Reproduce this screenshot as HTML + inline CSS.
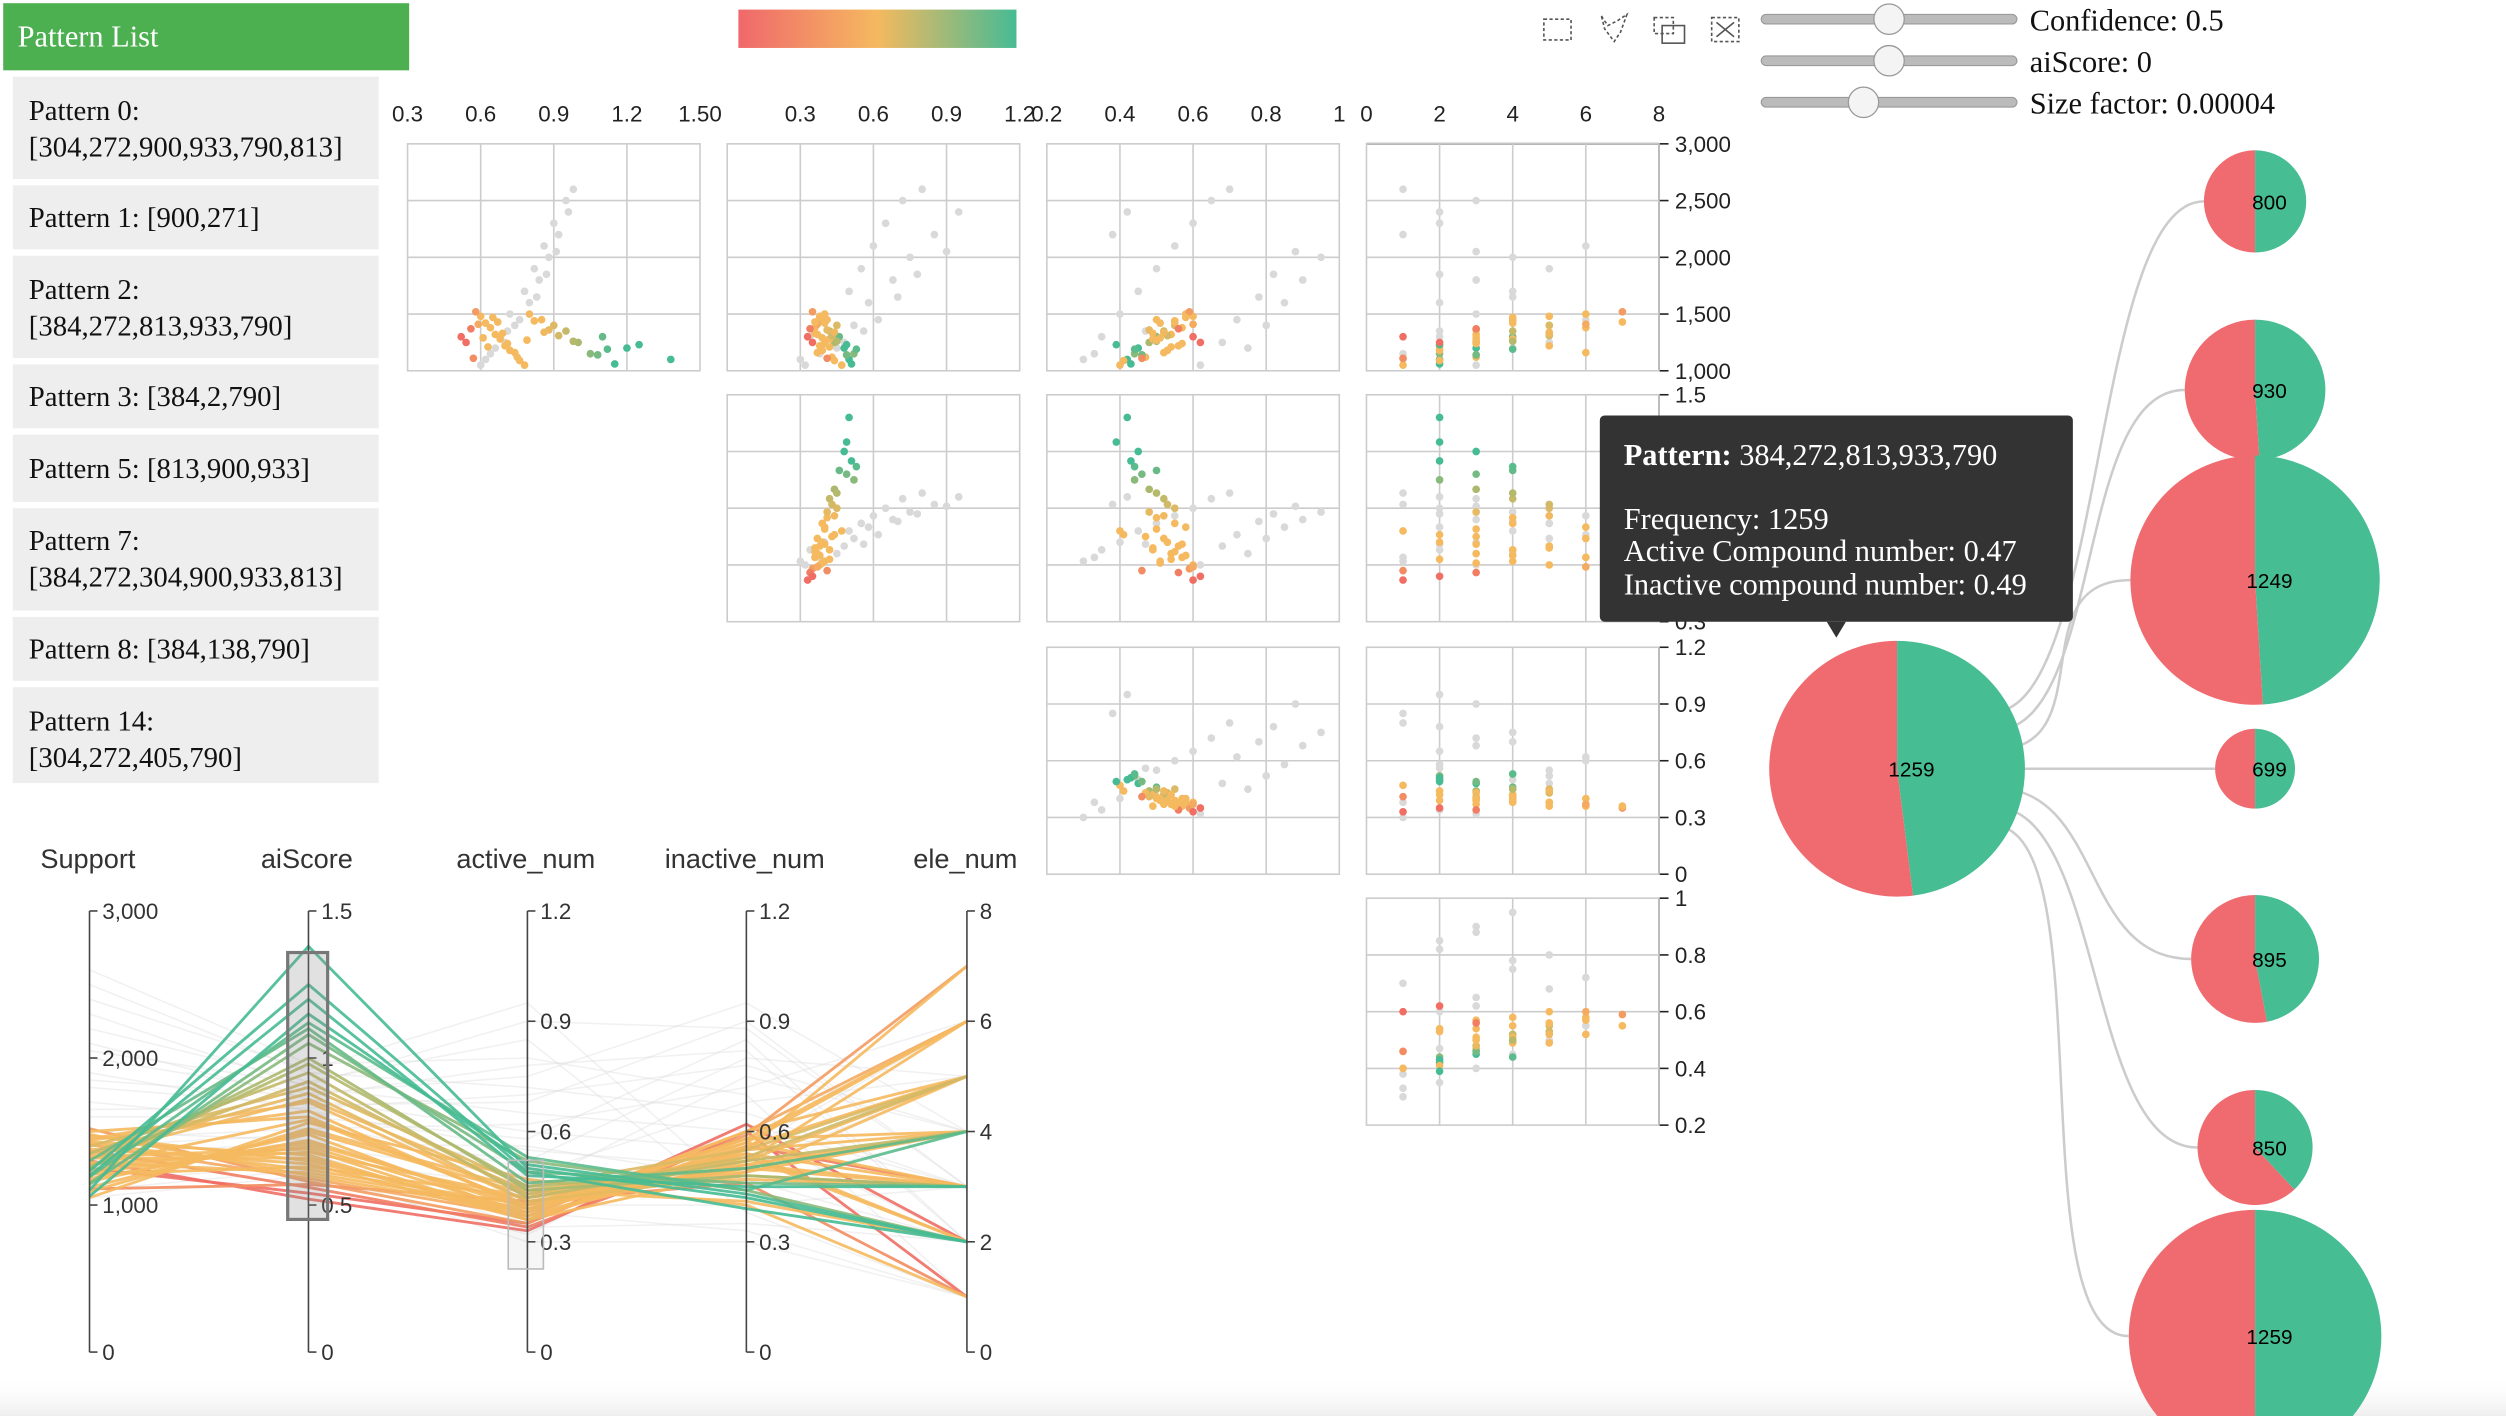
<!DOCTYPE html>
<html><head><meta charset="utf-8">
<style>
html,body{margin:0;padding:0;background:#fff;width:2506px;height:1416px;overflow:hidden}
svg{display:block}
.serif{font-family:"Liberation Serif",serif}
.sans{font-family:"Liberation Sans",sans-serif}
</style></head>
<body>
<svg id="root" width="2506" height="1416" viewBox="0 0 1568 886" xmlns="http://www.w3.org/2000/svg">
<defs>
<linearGradient id="cbar" x1="0" x2="1" y1="0" y2="0">
<stop offset="0" stop-color="#f0686c"/><stop offset="0.5" stop-color="#f5b95f"/><stop offset="1" stop-color="#46bb94"/>
</linearGradient>
<linearGradient id="shade" x1="0" x2="0" y1="0" y2="1"><stop offset="0" stop-color="#fff" stop-opacity="0"/><stop offset="1" stop-color="#eee"/></linearGradient>
</defs>
<rect x="0" y="860" width="1568" height="26" fill="url(#shade)"/>
<g>
<rect x="2" y="2" width="254" height="42" fill="#4caf50"/>
<text class="serif" x="11" y="29" font-size="19" fill="#fff">Pattern List</text>
<g><rect x="8" y="48" width="229" height="64" fill="#eee"/><text class="serif" x="18" y="75" font-size="18" fill="#111">Pattern 0:</text><text class="serif" x="18" y="98" font-size="18" fill="#111">[304,272,900,933,790,813]</text></g>
<g><rect x="8" y="116" width="229" height="40" fill="#eee"/><text class="serif" x="18" y="142" font-size="18" fill="#111">Pattern 1: [900,271]</text></g>
<g><rect x="8" y="160" width="229" height="64" fill="#eee"/><text class="serif" x="18" y="187" font-size="18" fill="#111">Pattern 2:</text><text class="serif" x="18" y="210" font-size="18" fill="#111">[384,272,813,933,790]</text></g>
<g><rect x="8" y="228" width="229" height="40" fill="#eee"/><text class="serif" x="18" y="254" font-size="18" fill="#111">Pattern 3: [384,2,790]</text></g>
<g><rect x="8" y="272" width="229" height="42" fill="#eee"/><text class="serif" x="18" y="299" font-size="18" fill="#111">Pattern 5: [813,900,933]</text></g>
<g><rect x="8" y="318" width="229" height="64" fill="#eee"/><text class="serif" x="18" y="344" font-size="18" fill="#111">Pattern 7:</text><text class="serif" x="18" y="367" font-size="18" fill="#111">[384,272,304,900,933,813]</text></g>
<g><rect x="8" y="386" width="229" height="40" fill="#eee"/><text class="serif" x="18" y="412" font-size="18" fill="#111">Pattern 8: [384,138,790]</text></g>
<g><rect x="8" y="430" width="229" height="60" fill="#eee"/><text class="serif" x="18" y="457" font-size="18" fill="#111">Pattern 14:</text><text class="serif" x="18" y="480" font-size="18" fill="#111">[304,272,405,790]</text></g>
</g>
<rect x="462" y="6" width="174" height="24" fill="url(#cbar)"/>
<g fill="none" stroke="#555" stroke-width="1" stroke-dasharray="2,1.5">
<rect x="966" y="12" width="17" height="13"/>
<path d="M1002 10 L1006 16 L1012 13 L1018 9 L1014 20 L1010 26 L1004 18 Z"/>
<g><rect x="1035" y="11" width="12" height="10"/><rect x="1040" y="16" width="14" height="11" stroke-dasharray="none"/></g>
<g><rect x="1071" y="11" width="17" height="15"/><path d="M1074 14 L1085 23 M1085 14 L1074 23" stroke-dasharray="none"/></g>
</g>
<g id="sliders"></g>
<g id="scatter"></g>
<g id="pc"></g>
<g id="tree"></g>
<g>
<rect x="1001" y="260" width="296" height="129" rx="3" fill="#333"/>
<path d="M1143 389 L1155 389 L1149 399 Z" fill="#333"/>
<text class="serif" x="1016" y="291" font-size="19" fill="#fff"><tspan font-weight="bold">Pattern:</tspan> 384,272,813,933,790</text>
<text class="serif" x="1016" y="331" font-size="19" fill="#fff">Frequency: 1259</text>
<text class="serif" x="1016" y="351" font-size="19" fill="#fff">Active Compound number: 0.47</text>
<text class="serif" x="1016" y="372" font-size="19" fill="#fff">Inactive compound number: 0.49</text>
</g>
</svg>
<script>
// ---- data ----
const sup   = [1100,1200,1300,1150,1250,1350,1400,1450,1500,1050,1120,1180,1220,1280,1320,1380,1420,1480,1520,1060,1140,1260,1310,1360,1440,1090,1160,1240,1330,1470,1210,1290,1410,1110,1370,1230,1190,1340,1270,1430,1250,1300,
               1100,1300,1500,1700,1900,2100,2300,2500,2600,1200,1400,1600,1800,2000,2200,2400,1050,1250,1450,1650,1850,2050,1150,1350];
const ai    = [1.38,1.2,1.1,1.05,1.0,0.95,0.9,0.85,0.8,0.78,0.75,0.72,0.7,0.68,0.66,0.64,0.62,0.6,0.58,1.15,1.08,0.98,0.92,0.88,0.82,0.76,0.74,0.71,0.69,0.65,0.63,0.61,0.59,0.57,0.56,1.25,1.12,0.86,0.79,0.67,0.54,0.52,
               0.62,0.68,0.72,0.78,0.82,0.86,0.9,0.95,0.98,0.66,0.74,0.8,0.84,0.88,0.92,0.96,0.6,0.7,0.76,0.83,0.87,0.91,0.64,0.71];
const act   = [0.5,0.48,0.46,0.52,0.44,0.42,0.45,0.41,0.4,0.47,0.43,0.39,0.38,0.42,0.37,0.36,0.4,0.38,0.35,0.51,0.49,0.45,0.43,0.41,0.39,0.44,0.37,0.4,0.36,0.38,0.42,0.39,0.37,0.41,0.34,0.49,0.53,0.44,0.4,0.36,0.35,0.33,
               0.3,0.34,0.4,0.5,0.55,0.6,0.65,0.72,0.8,0.45,0.52,0.58,0.68,0.75,0.85,0.95,0.32,0.48,0.62,0.7,0.78,0.9,0.38,0.56];
const inact = [0.42,0.45,0.5,0.44,0.48,0.52,0.55,0.5,0.58,0.4,0.47,0.53,0.56,0.49,0.54,0.57,0.51,0.6,0.59,0.43,0.46,0.5,0.53,0.48,0.55,0.41,0.52,0.57,0.49,0.58,0.54,0.51,0.6,0.46,0.56,0.39,0.44,0.52,0.5,0.55,0.62,0.6,
               0.3,0.35,0.4,0.45,0.5,0.55,0.6,0.65,0.7,0.75,0.8,0.85,0.9,0.95,0.38,0.42,0.62,0.68,0.72,0.78,0.82,0.88,0.33,0.47];
const ele   = [2,3,4,2,3,4,5,4,6,1,3,2,5,4,3,6,4,5,7,2,3,4,5,3,4,2,6,3,5,4,2,3,6,1,3,2,4,5,3,7,2,1,
               1,2,3,4,5,6,2,3,1,4,5,2,3,4,1,2,3,5,6,4,2,3,1,2];
const sel   = [1,1,1,1,1,1,1,1,1,1,1,1,1,1,1,1,1,1,1,1,1,1,1,1,1,1,1,1,1,1,1,1,1,1,1,1,1,1,1,1,1,1,
               0,0,0,0,0,0,0,0,0,0,0,0,0,0,0,0,0,0,0,0,0,0,0,0];
const dims = [sup, ai, act, inact, ele];
const dimNames = ["Support","aiScore","active_num","inactive_num","ele_num"];
const pcDomains = [[0,3000],[0,1.5],[0,1.2],[0,1.2],[0,8]];
const pcTicks = [[0,1000,2000,3000],[0,0.5,1,1.5],[0,0.3,0.6,0.9,1.2],[0,0.3,0.6,0.9,1.2],[0,2,4,6,8]];
const pcTickLabels = [["0","1,000","2,000","3,000"],["0","0.5","1","1.5"],["0","0.3","0.6","0.9","1.2"],["0","0.3","0.6","0.9","1.2"],["0","2","4","6","8"]];
const colDomains = [[0.3,1.5],[0,1.2],[0.2,1],[0,8]];
const colTicks = [[0.3,0.6,0.9,1.2,1.5],[0.3,0.6,0.9,1.2],[0.2,0.4,0.6,0.8,1],[0,2,4,6,8]];
const colTickLabels = [["0.3","0.6","0.9","1.2","1.50"],["0.3","0.6","0.9","1.2"],["0.2","0.4","0.6","0.8","1"],["0","2","4","6","8"]];
const rowDomains = [[1000,3000],[0.3,1.5],[0,1.2],[0.2,1]];
const rowTicks = [[1000,1500,2000,2500,3000],[0.3,0.6,0.9,1.2,1.5],[0,0.3,0.6,0.9,1.2],[0.2,0.4,0.6,0.8,1]];
const rowTickLabels = [["1,000","1,500","2,000","2,500","3,000"],["0.3","0.6","0.9","1.2","1.5"],["0","0.3","0.6","0.9","1.2"],["0.2","0.4","0.6","0.8","1"]];
const treeValues = [1259,800,930,1249,699,895,850,1259];
const treeRed = [0.52,0.5,0.51,0.51,0.5,0.53,0.62,0.5];

const NS="http://www.w3.org/2000/svg";
function mk(parent,tag,attrs,text){const e=document.createElementNS(NS,tag);for(const k in attrs)e.setAttribute(k,attrs[k]);if(text!==undefined)e.textContent=text;parent.appendChild(e);return e;}
function lin(d,r){return v=>r[0]+(v-d[0])/(d[1]-d[0])*(r[1]-r[0]);}
function mix(a,b,t){t=Math.max(0,Math.min(1,t));return a.map((x,i)=>Math.round(x+(b[i]-x)*t));}
function colorOf(v){const R=[240,110,100],O=[245,185,95],M=[170,185,110],G=[70,187,148];let c;
  if(v<0.6)c=mix(R,O,(v-0.55)/0.05);else if(v<0.85)c=O;else if(v<1.0)c=mix(O,M,(v-0.85)/0.15);else c=mix(M,G,(v-1.0)/0.15);
  return `rgb(${c[0]},${c[1]},${c[2]})`;}

const sl=document.getElementById('sliders');
const slLabels=["Confidence: 0.5","aiScore: 0","Size factor: 0.00004"];
const slKnob=[1182,1182,1166];
[12,38,64].forEach((y,i)=>{
  const g=mk(sl,'g',{});
  
  
  mk(g,'rect',{x:1102,y:y-3,width:160,height:6,rx:3,fill:'#bbb',stroke:'#999','stroke-width':0.7});
  mk(g,'circle',{cx:slKnob[i],cy:y,r:9.5,fill:'#f4f4f4',stroke:'#999','stroke-width':0.8});
  const t=mk(sl,'text',{x:1270,y:y+7,'font-size':19,class:'serif',fill:'#111'},slLabels[i]);
  
  
});

const sc=document.getElementById('scatter');
const cx0=[255,455,655,855], cw=183;
const ry0=[90,247,405,562], rh=142;
const colDim=[1,2,3,4], rowDim=[0,1,2,3];
const cellX=[], cellY=[];
for(let c=0;c<4;c++){cellX.push(lin(colDomains[c],[cx0[c],cx0[c]+cw]));}
for(let r=0;r<4;r++){cellY.push(lin(rowDomains[r],[ry0[r]+rh,ry0[r]]));}
for(let c=0;c<4;c++){
  colTicks[c].forEach((t,i)=>{const tx=mk(sc,'text',{x:cellX[c](t),y:76,'font-size':14,class:'sans','text-anchor':'middle',fill:'#222'},colTickLabels[c][i]);
    });
}
for(let r=0;r<4;r++){
  mk(sc,'line',{x1:1038,x2:1038,y1:ry0[r],y2:ry0[r]+rh,stroke:'#222','stroke-width':1});
  rowTicks[r].forEach((t,i)=>{const y=cellY[r](t);mk(sc,'line',{x1:1038,x2:1044,y1:y,y2:y,stroke:'#222'});
    const tx=mk(sc,'text',{x:1048,y:y+5,'font-size':14,class:'sans',fill:'#222'},rowTickLabels[r][i]);
    });
}
mk(sc,'line',{x1:855,x2:1038,y1:90,y2:90,stroke:'#222','stroke-width':1.2});
for(let r=0;r<4;r++)for(let c=r;c<4;c++){
  const g=mk(sc,'g',{});
  
  
  mk(g,'rect',{x:cx0[c],y:ry0[r],width:cw,height:rh,fill:'none',stroke:'#ccc','stroke-width':1});
  colTicks[c].forEach(t=>{const x=cellX[c](t);if(x>cx0[c]+1&&x<cx0[c]+cw-1)mk(g,'line',{x1:x,x2:x,y1:ry0[r],y2:ry0[r]+rh,stroke:'#ccc'});});
  rowTicks[r].forEach(t=>{const y=cellY[r](t);if(y>ry0[r]+1&&y<ry0[r]+rh-1)mk(g,'line',{x1:cx0[c],x2:cx0[c]+cw,y1:y,y2:y,stroke:'#ccc'});});
  const xs=dims[colDim[c]], ys=dims[rowDim[r]];
  const order=[...sup.keys()].sort((a,b)=>sel[a]-sel[b]);
  order.forEach(i=>{
    const x=cellX[c](xs[i]), y=cellY[r](ys[i]);
    if(x<cx0[c]||x>cx0[c]+cw||y<ry0[r]||y>ry0[r]+rh)return;
    const d=mk(g,'circle',{cx:x,cy:y,r:2.4,fill:sel[i]?colorOf(ai[i]):'#d9d9d9'});
    
    
  });
}

const pc=document.getElementById('pc');
const axX=[56,193,330,467,605], yTop=570, yBot=846;
const pcY=pcDomains.map(d=>lin(d,[yBot,yTop]));
const linesG=mk(pc,'g',{});
const order2=[...sup.keys()].sort((a,b)=>(sel[a]-sel[b])||(ai[a]-ai[b]));
order2.forEach(i=>{
  const pts=dims.map((d,k)=>axX[k]+','+pcY[k](d[i]).toFixed(1)).join(' ');
  const p=mk(linesG,'polyline',{points:pts,fill:'none',stroke:sel[i]?colorOf(ai[i]):'#ddd','stroke-width':sel[i]?1.8:1,'stroke-opacity':sel[i]?0.9:0.4});
  
  
});
for(let k=0;k<5;k++){
  const g=mk(pc,'g',{});
  
  
  mk(g,'text',{x:axX[k]-1,y:543,'font-size':17,class:'sans','text-anchor':'middle',fill:'#333'},dimNames[k]);
  mk(g,'line',{x1:axX[k],x2:axX[k],y1:yTop,y2:yBot,stroke:'#444','stroke-width':1});
  pcTicks[k].forEach((v,i)=>{const y=pcY[k](v);mk(g,'line',{x1:axX[k],x2:axX[k]+5,y1:y,y2:y,stroke:'#444'});
    mk(g,'text',{x:axX[k]+8,y:y+5,'font-size':14,class:'sans',fill:'#333'},pcTickLabels[k][i]);});
}
const br=mk(pc,'rect',{x:180,y:596,width:25,height:167,fill:'#888','fill-opacity':0.25,stroke:'#777','stroke-width':2});


const br2=mk(pc,'rect',{x:318,y:726,width:22,height:68,fill:'#888','fill-opacity':0.08,stroke:'#bbb','stroke-width':1});



const tr=document.getElementById('tree');
const rootPos=[1187,481,80];
const kids=[[1411,126,32],[1411,244,44],[1411,363,78],[1411,481,25],[1411,600,40],[1411,718,36],[1411,836,79]];
kids.forEach(k=>{
  const sx=rootPos[0]+60, sy=rootPos[1]+(k[1]-rootPos[1])*0.1, ex=k[0]-k[2], ey=k[1];
  const l=mk(tr,'path',{d:`M${sx},${sy} C${sx+70},${sy} ${ex-70},${ey} ${ex},${ey}`,fill:'none',stroke:'#ccc','stroke-width':1.6});
  
  
});
function pie(cx,cy,r,red,val,idx){
  const g=mk(tr,'g',{});
  
  
  const a=red*2*Math.PI;
  const ex=cx-Math.sin(a)*r, ey=cy-Math.cos(a)*r;
  const large=red>0.5?1:0;
  mk(g,'path',{d:`M${cx},${cy} L${cx},${cy-r} A${r},${r} 0 ${large} 0 ${ex},${ey} Z`,fill:'#f06b70'});
  mk(g,'path',{d:`M${cx},${cy} L${ex},${ey} A${r},${r} 0 ${1-large} 0 ${cx},${cy-r} Z`,fill:'#47bd94'});
  mk(g,'text',{x:cx+9,y:cy+5,'font-size':13,class:'sans','text-anchor':'middle',fill:'#000'},val);
}
pie(rootPos[0],rootPos[1],rootPos[2],treeRed[0],treeValues[0],0);
kids.forEach((k,i)=>pie(k[0],k[1],k[2],treeRed[i+1],treeValues[i+1],i+1));
</script>
</body></html>
